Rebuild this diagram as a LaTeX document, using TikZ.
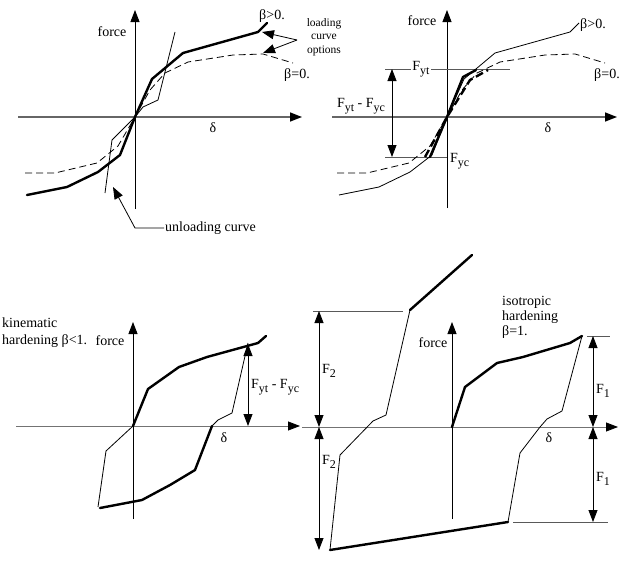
\documentclass[tikz,border=0pt]{standalone}
\usepackage{fontspec}
\setmainfont{Liberation Serif}
\usetikzlibrary{arrows.meta}
\newcommand{\lsub}[1]{\raisebox{-4pt}{\fontsize{12}{12}\selectfont #1}}
\begin{document}
\begin{tikzpicture}[x=1pt,y=-1pt,
  thickc/.style={line width=2.4pt,line join=round,line cap=round},
  thinc/.style={line width=0.8pt,line join=round},
  dashc/.style={line width=0.8pt,dash pattern=on 7pt off 4pt},
  thickdash/.style={line width=2.4pt,dash pattern=on 8pt off 4pt},
  tip/.tip={Triangle[length=12pt,width=9pt,color=black]},
  vax/.style={line width=0.9pt,-tip},
  hax/.style={line width=1.4pt,draw=black!60,-tip},
  haxl/.style={line width=0.8pt,draw=black!55,-tip},
  dimarr/.style={line width=0.8pt,tip-tip},
  ptr/.style={line width=0.8pt,-tip},
  refl/.style={line width=0.8pt,draw=black!65},
  lbl/.style={font=\fontsize{14}{16}\selectfont,inner sep=1pt},
  sml/.style={font=\fontsize{11.5}{13.5}\selectfont,inner sep=1pt}]
\useasboundingbox (0,0) rectangle (635,562);

% ---------------- top-left ----------------
\draw[hax] (18,117) coordinate (tlh0) -- (302,117) coordinate (tlh1);
\draw[vax] (135,209) coordinate (tlv0) -- (135,10) coordinate (tlv1);
\node[lbl] (tlforce) at (112,32) {force};
\node[lbl] (tldelta) at (213,128) {δ};
\node[lbl] (tlbp) at (272,16) {β>0.};
\node[lbl] (tlbz) at (297,75) {β=0.};
\node[sml,align=center] (tlopt) at (324,37) {loading\\curve\\options};
\node[lbl,anchor=west] (tlunl) at (164,228) {unloading curve};
\draw[dashc] (25,173) -- (55,173) -- (97,163) -- (118,146) -- (135,117) -- (150,90) -- (165,73) -- (188,62) -- (233,55) -- (263,54) -- (293,63);
\draw[thinc] (105,193) -- (112,140) -- (135,117) -- (143,107) -- (158,100) -- (175,32);
\draw[thickc] (27,195) -- (67,187) -- (98,172) -- (120,155) -- (135,117) -- (152,79) -- (183,53) -- (258,32) -- (267,23);
\coordinate (optsrc) at (297,40);
\draw[ptr] (optsrc) -- (262,32);
\draw[ptr] (optsrc) -- (263,53);
\draw[ptr] (tlunl.west) -- (135,228) -- (113,187);

% ---------------- top-right ----------------
\draw[hax] (332,117) coordinate (trh0) -- (617,117) coordinate (trh1);
\draw[vax] (447,208) coordinate (trv0) -- (447,10) coordinate (trv1);
\node[lbl] (trforce) at (422,21) {force};
\node[lbl] (trdelta) at (548,128) {δ};
\node[lbl] (trbp) at (593,25) {β>0.};
\node[lbl] (trbz) at (607,75) {β=0.};
\draw[refl] (385,69) coordinate (fyt0) -- (510,69) coordinate (fyt1);
\draw[refl] (385,157) coordinate (fyc0) -- (447,157) coordinate (fyc1);
\node[lbl,fill=white,inner sep=1.5pt] (trfyt) at (421,69) {F\lsub{yt}};
\node[lbl,anchor=west] (trfyc) at (449,161) {F\lsub{yc}};
\draw[dimarr] (392,69) coordinate (trd0) -- (392,157) coordinate (trd1);
\node[lbl] (trdiff) at (361,106) {F\lsub{yt} - F\lsub{yc}};
\draw[thinc] (339,195) -- (379,187) -- (410,172) -- (432,155) -- (447,117) -- (464,79) -- (495,53) -- (570,32) -- (579,23);
\draw[dashc] (337,173) -- (367,173) -- (409,163) -- (430,146) -- (447,117) -- (462,90) -- (477,73) -- (500,62) -- (545,55) -- (575,54) -- (605,63);
\draw[thickdash] (425,157) -- (447,117) -- (470,80) -- (488,70);
\draw[thickc] (430,157) -- (447,117) -- (463,77) -- (476,70);

% ---------------- bottom-left ----------------
\draw[haxl] (16,426) coordinate (blh0) -- (300,426) coordinate (blh1);
\draw[vax] (133,519) coordinate (blv0) -- (133,322) coordinate (blv1);
\node[lbl,align=left,anchor=west,font=\fontsize{14}{17}\selectfont] (blkin) at (1,333) {kinematic\\hardening β<1.};
\node[lbl] (blforce) at (110,341) {force};
\node[lbl] (bldelta) at (224,438) {δ};
\draw[thinc] (248,343) -- (232,413) -- (218,420) -- (212,426);
\draw[thinc] (98,507) -- (106,451) -- (133,426);
\draw[thickc] (133,426) -- (148,389) -- (179,367) -- (207,357) -- (258,343) -- (266,336);
\draw[thickc] (212,426) -- (195,470) -- (170,485) -- (142,500) -- (100,508);
\draw[dimarr] (248,344) coordinate (bld0) -- (248,426) coordinate (bld1);
\node[lbl,anchor=west] (bldiff) at (250,387) {F\lsub{yt} - F\lsub{yc}};

% ---------------- bottom-right ----------------
\draw[haxl] (302,427) coordinate (brh0) -- (618,427) coordinate (brh1);
\draw[vax] (452,519) coordinate (brv0) -- (452,322) coordinate (brv1);
\node[lbl] (brforce) at (433,343) {force};
\node[lbl] (brdelta) at (549,438) {δ};
\node[lbl,align=left,anchor=west,font=\fontsize{14}{15}\selectfont] (briso) at (501,317) {isotropic\\hardening\\β=1.};
\draw[refl] (313,311) coordinate (f2a) -- (403,311) coordinate (f2b);
\draw[refl] (587,336) coordinate (f1a) -- (610,336) coordinate (f1b);
\draw[refl] (513,522) coordinate (f1c) -- (608,522) coordinate (f1d);
\draw[thinc] (582,336) -- (562,411) -- (547,419) -- (540,427) -- (520,453) -- (508,522);
\draw[thinc] (330,550) -- (340,455) -- (373,421) -- (386,415) -- (410,310);
\draw[thickc] (452,427) -- (465,387) -- (497,363) -- (523,357) -- (570,343) -- (582,336);
\draw[thickc] (508,522) -- (330,550);
\draw[thickc] (410,310) -- (472,255);
\draw[dimarr] (319,311) coordinate (brf2a) -- (319,427) coordinate (brf2b);
\draw[dimarr] (319,427) -- (319,550) coordinate (brf2c);
\draw[dimarr] (593,336) coordinate (brf1a) -- (593,427) coordinate (brf1b);
\draw[dimarr] (593,427) -- (593,522) coordinate (brf1c);
\node[lbl,anchor=west] (brf2u) at (321,371) {F\lsub{2}};
\node[lbl,anchor=west] (brf2l) at (321,462) {F\lsub{2}};
\node[lbl,anchor=west] (brf1u) at (595,391) {F\lsub{1}};
\node[lbl,anchor=west] (brf1l) at (595,479) {F\lsub{1}};
\end{tikzpicture}
\end{document}
